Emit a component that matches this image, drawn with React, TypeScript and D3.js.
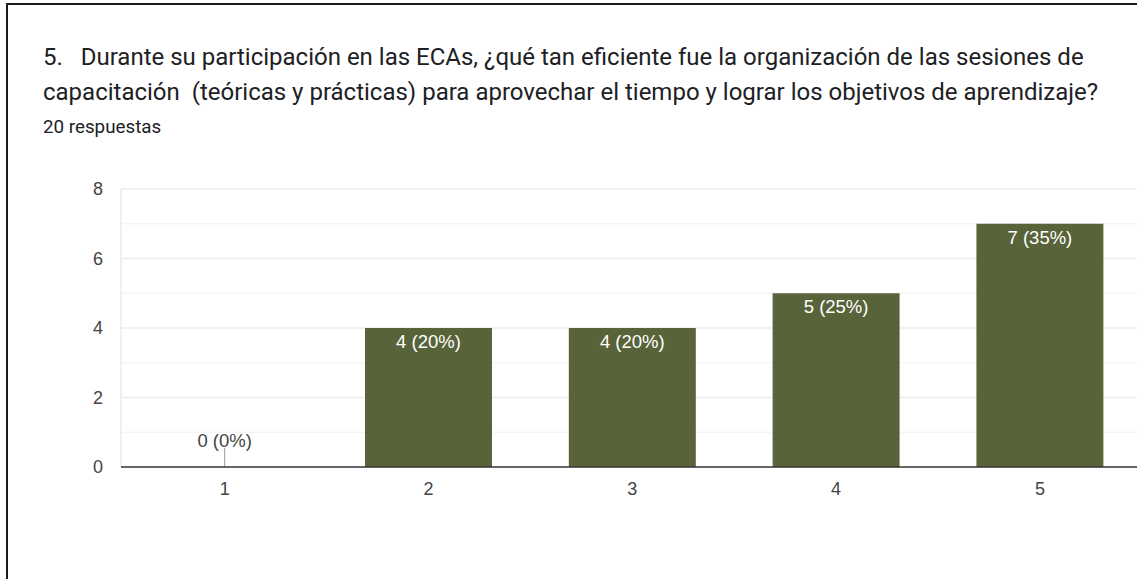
import React from 'react';
import * as d3 from 'd3';

const categories = ['1', '2', '3', '4', '5'];
const counts = [0, 4, 4, 5, 7];
const percents = ['0%', '20%', '20%', '25%', '35%'];
const yTicks = [0, 2, 4, 6, 8];
const titleLines = [
    '5.\u00A0\u00A0 Durante su participación en las ECAs, ¿qué tan eficiente fue la organización de las sesiones de',
    'capacitación\u00A0 (teóricas y prácticas) para aprovechar el tiempo y lograr los objetivos de aprendizaje?',
];
const subtitle = '20 respuestas';

const W = 1137;
const H = 579;
const plot = { left: 121, right: 1137, top: 189, bottom: 467 };

export default function App() {
    const x = d3.scaleBand<string>()
        .domain(categories)
        .range([122.8, 1141.8])
        .paddingInner(0.377)
        .paddingOuter(0.1885);
    const y = d3.scaleLinear().domain([0, 8]).range([plot.bottom, plot.top]);
    const minor = d3.range(1, 8, 2);

    return (
        <svg width={W} height={H} style={{ position: 'absolute', left: 0, top: 0, background: '#fff' }}>
            {/* frame */}
            <line x1={7} x2={7} y1={3} y2={H} stroke="#1a1a1a" strokeWidth={2} />
            <line x1={6} x2={W} y1={4} y2={4} stroke="#1a1a1a" strokeWidth={2} />

            {/* title */}
            <g fontFamily="Roboto, sans-serif" fill="#202124">
                {titleLines.map((t, i) => (
                    <text key={i} x={43} y={65 + i * 35} fontSize={24}>{t}</text>
                ))}
                <text x={43} y={133} fontSize={18.8}>{subtitle}</text>
            </g>

            {/* grid */}
            {minor.map(v => (
                <line key={'m' + v} x1={plot.left} x2={plot.right} y1={y(v)} y2={y(v)} stroke="#f5f5f5" strokeWidth={1.5} />
            ))}
            {yTicks.filter(v => v > 0).map(v => (
                <line key={'g' + v} x1={plot.left} x2={plot.right} y1={y(v)} y2={y(v)} stroke="#ebebeb" strokeWidth={1.5} />
            ))}
            <line x1={plot.left} x2={plot.left} y1={plot.top} y2={plot.bottom} stroke="#ebebeb" strokeWidth={1.5} />

            {/* y tick labels */}
            <g fontFamily="Arial, 'Liberation Sans', sans-serif" fontSize={18} fill="#444" textAnchor="end">
                {yTicks.map(v => (
                    <text key={v} x={103} y={y(v)} dy="0.36em">{v}</text>
                ))}
            </g>

            {/* bars */}
            {categories.map((c, i) => {
                const v = counts[i];
                const bx = x(c) as number;
                const cx = bx + x.bandwidth() / 2;
                const label = `${v} (${percents[i]})`;
                if (v === 0) {
                    return (
                        <g key={c}>
                            <line x1={cx} x2={cx} y1={y(0) - 19} y2={y(0)} stroke="#999" strokeWidth={1} />
                            <text x={cx} y={y(0) - 20} textAnchor="middle" fontFamily="Arial, 'Liberation Sans', sans-serif" fontSize={18.5} fill="#444">{label}</text>
                        </g>
                    );
                }
                return (
                    <g key={c}>
                        <rect x={bx} y={y(v)} width={x.bandwidth()} height={y(0) - y(v)} fill="#586339" />
                        <text x={cx} y={y(v) + 20} textAnchor="middle" fontFamily="Arial, 'Liberation Sans', sans-serif" fontSize={18.5} fill="#fff">{label}</text>
                    </g>
                );
            })}

            {/* baseline */}
            <line x1={plot.left} x2={plot.right} y1={y(0)} y2={y(0)} stroke="#333" strokeWidth={1.5} />

            {/* x tick labels */}
            <g fontFamily="Arial, 'Liberation Sans', sans-serif" fontSize={18} fill="#444" textAnchor="middle">
                {categories.map(c => (
                    <text key={c} x={(x(c) as number) + x.bandwidth() / 2} y={495}>{c}</text>
                ))}
            </g>
        </svg>
    );
}
